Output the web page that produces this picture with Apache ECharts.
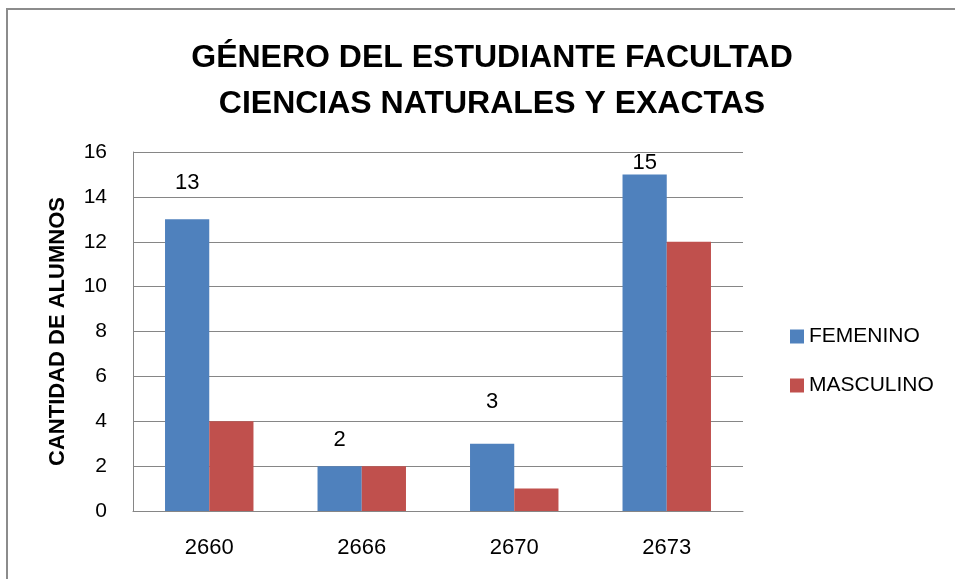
<!DOCTYPE html>
<html>
<head>
<meta charset="utf-8">
<script src="https://cdn.jsdelivr.net/npm/echarts@6/dist/echarts.min.js"></script>
<style>
  html, body { margin: 0; padding: 0; background: #fff; }
  #chart { width: 955px; height: 579px; }
</style>
</head>
<body>
<div id="chart"></div>
<script>
const categories = ['2660', '2666', '2670', '2673'];
const femenino = [13, 2, 3, 15];
const masculino = [4, 2, 1, 12];
// Excel labels were dragged by hand, so each one sits at its own distance
const labelDistance = [25, 15, 31, 1];

let chartDom = document.getElementById('chart');
let myChart = echarts.init(chartDom);
let font = 'Liberation Sans';

let option = {
  animation: false,
  textStyle: { fontFamily: font },
  graphic: [
    {
      type: 'rect',
      shape: { x: 7, y: 9, width: 1000, height: 1000 },
      style: { fill: 'none', stroke: '#8c8c8c', lineWidth: 2 },
    },
  ],
  title: {
    text: 'GÉNERO DEL ESTUDIANTE FACULTAD\nCIENCIAS NATURALES Y EXACTAS',
    left: 487,
    top: 30,
    textAlign: 'center',
    textStyle: {
      fontFamily: font,
      fontSize: 32,
      fontWeight: 'bold',
      color: '#000',
      lineHeight: 46,
    },
  },
  legend: {
    orient: 'vertical',
    left: 785,
    top: 321,
    itemWidth: 14,
    itemHeight: 14,
    itemGap: 28,
    icon: 'rect',
    textStyle: { fontFamily: font, fontSize: 21, color: '#000', padding: [0, 0, 0, 0] },
    data: ['FEMENINO', 'MASCULINO'],
  },
  grid: {
    left: 133,
    right: 212,
    top: 152,
    bottom: 68,
  },
  xAxis: {
    type: 'category',
    data: categories,
    axisLine: { lineStyle: { color: '#868686', width: 1 } },
    axisTick: { show: false },
    axisLabel: { fontFamily: font, fontSize: 22, color: '#000', margin: 26 },
  },
  yAxis: {
    type: 'value',
    min: 0,
    max: 16,
    interval: 2,
    name: 'CANTIDAD DE ALUMNOS',
    nameLocation: 'middle',
    nameGap: 64,
    nameTextStyle: { fontFamily: font, fontSize: 22, fontWeight: 'bold', color: '#000' },
    axisLine: { show: true, lineStyle: { color: '#868686', width: 1 } },
    axisTick: { show: false },
    axisLabel: { fontFamily: font, fontSize: 21, color: '#000', margin: 26 },
    splitLine: { lineStyle: { color: '#868686', width: 1 } },
  },
  series: [
    {
      name: 'FEMENINO',
      type: 'bar',
      barGap: '0%',
      barCategoryGap: '42%',
      itemStyle: { color: '#4F81BD' },
      data: femenino.map((v, i) => ({
        value: v,
        label: {
          show: true,
          position: 'top',
          distance: labelDistance[i],
          fontFamily: font,
          fontSize: 22,
          color: '#000',
        },
      })),
    },
    {
      name: 'MASCULINO',
      type: 'bar',
      itemStyle: { color: '#C0504D' },
      data: masculino,
    },
  ],
};

option && myChart.setOption(option);
</script>
</body>
</html>
